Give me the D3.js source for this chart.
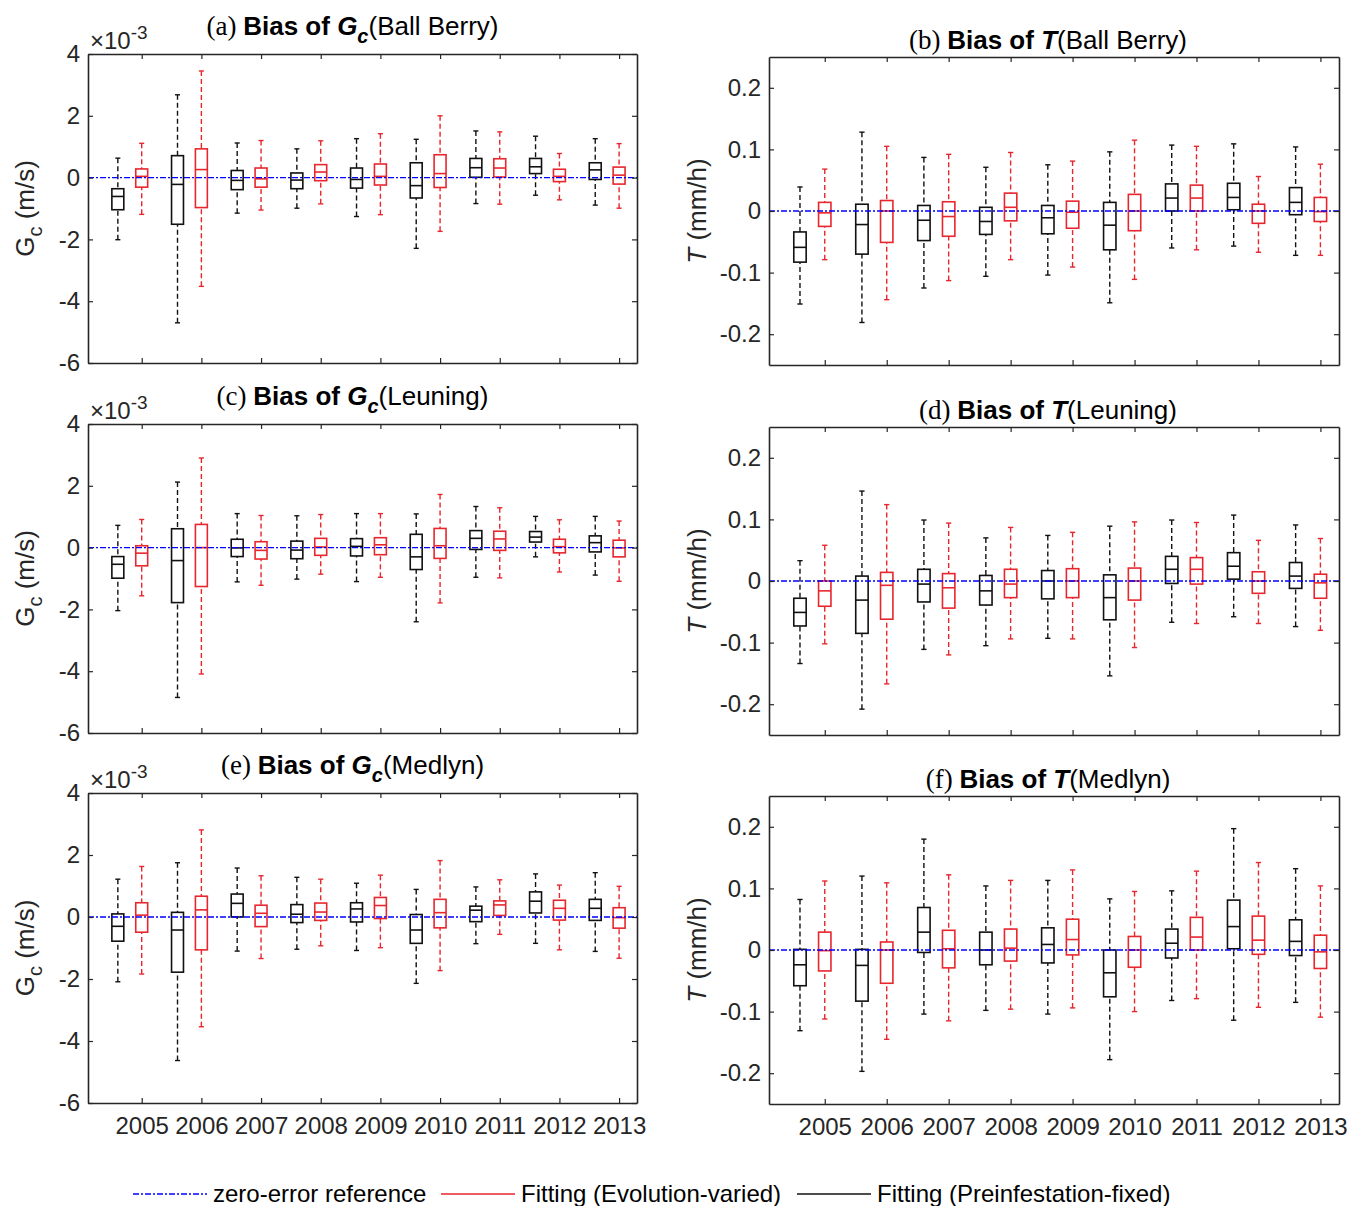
<!DOCTYPE html>
<html>
<head>
<meta charset="utf-8">
<script src="https://cdn.jsdelivr.net/npm/d3@7"></script>
<style>
  body { margin: 0; background: #fff; }
  svg { display: block; }
  text { font-family: "Liberation Sans", Arial, sans-serif; }
</style>
</head>
<body>
<div id="chart"></div>
<script>
// box stats per year: [lower whisker, q1, median, q3, upper whisker]
var years = [2005, 2006, 2007, 2008, 2009, 2010, 2011, 2012, 2013];

// Gc bias, units of 1e-3 m/s
var gcBallBerryFixed = [[-2.01,-1.04,-0.61,-0.36,0.63],[-4.70,-1.51,-0.22,0.71,2.68],[-1.15,-0.39,-0.09,0.23,1.12],[-0.99,-0.36,-0.08,0.15,0.93],[-1.26,-0.34,-0.06,0.31,1.26],[-2.29,-0.66,-0.26,0.48,1.24],[-0.84,0.01,0.32,0.62,1.51],[-0.57,0.13,0.35,0.62,1.34],[-0.89,-0.06,0.25,0.48,1.26]];
var gcBallBerryVaried = [[-1.19,-0.31,0.04,0.28,1.11],[-3.52,-0.97,0.26,0.93,3.45],[-1.05,-0.31,-0.04,0.31,1.20],[-0.85,-0.10,0.18,0.42,1.19],[-1.20,-0.24,0.04,0.44,1.42],[-1.74,-0.32,0.13,0.74,2.00],[-0.86,0.02,0.31,0.61,1.48],[-0.72,-0.13,0.04,0.27,0.78],[-0.99,-0.21,0.08,0.34,1.10]];
var gcLeuningFixed = [[-2.04,-0.99,-0.54,-0.29,0.72],[-4.85,-1.78,-0.42,0.61,2.12],[-1.11,-0.29,-0.01,0.27,1.10],[-1.02,-0.36,-0.08,0.21,1.03],[-1.10,-0.27,0.04,0.29,1.10],[-2.40,-0.71,-0.30,0.43,1.09],[-0.96,-0.06,0.30,0.55,1.33],[-0.30,0.18,0.34,0.52,1.01],[-0.89,-0.14,0.16,0.38,1.01]];
var gcLeuningVaried = [[-1.56,-0.59,-0.18,0.06,0.91],[-4.09,-1.26,0.00,0.75,2.90],[-1.22,-0.37,-0.09,0.19,1.04],[-0.86,-0.25,0.02,0.30,1.07],[-0.96,-0.23,0.09,0.32,1.10],[-1.79,-0.35,0.06,0.62,1.72],[-0.98,-0.09,0.28,0.53,1.29],[-0.79,-0.17,0.03,0.27,0.90],[-1.09,-0.30,-0.01,0.24,0.86]];
var gcMedlynFixed = [[-2.09,-0.78,-0.30,0.10,1.22],[-4.63,-1.78,-0.42,0.15,1.75],[-1.10,0.00,0.44,0.74,1.58],[-1.04,-0.18,0.09,0.40,1.28],[-1.08,-0.16,0.26,0.46,1.09],[-2.14,-0.85,-0.42,0.08,0.89],[-0.86,-0.15,0.22,0.35,0.97],[-0.85,0.13,0.51,0.81,1.39],[-1.11,-0.11,0.28,0.57,1.43]];
var gcMedlynVaried = [[-1.84,-0.49,0.06,0.46,1.63],[-3.54,-1.06,0.23,0.67,2.81],[-1.34,-0.31,0.12,0.38,1.33],[-0.93,-0.11,0.16,0.45,1.22],[-0.99,-0.05,0.37,0.63,1.35],[-1.73,-0.35,0.14,0.57,1.82],[-0.56,0.05,0.39,0.52,1.20],[-1.06,-0.10,0.28,0.54,1.03],[-1.33,-0.36,-0.02,0.30,0.99]];

// T bias, mm/h
var tBallBerryFixed = [[-0.151,-0.083,-0.059,-0.034,0.039],[-0.181,-0.070,-0.022,0.011,0.128],[-0.125,-0.048,-0.015,0.009,0.087],[-0.106,-0.038,-0.017,0.006,0.071],[-0.104,-0.037,-0.011,0.009,0.075],[-0.149,-0.063,-0.023,0.014,0.096],[-0.060,0.000,0.021,0.044,0.107],[-0.057,0.002,0.022,0.045,0.109],[-0.072,-0.006,0.014,0.038,0.104]];
var tBallBerryVaried = [[-0.079,-0.025,-0.003,0.014,0.068],[-0.144,-0.051,0.000,0.017,0.105],[-0.113,-0.041,-0.009,0.015,0.092],[-0.079,-0.016,0.006,0.029,0.095],[-0.091,-0.028,-0.002,0.016,0.081],[-0.111,-0.032,0.000,0.027,0.115],[-0.063,0.000,0.021,0.042,0.105],[-0.067,-0.020,0.000,0.011,0.056],[-0.072,-0.017,-0.001,0.022,0.076]];
var tLeuningFixed = [[-0.134,-0.073,-0.051,-0.028,0.033],[-0.208,-0.085,-0.031,0.008,0.146],[-0.111,-0.034,-0.005,0.019,0.099],[-0.105,-0.039,-0.016,0.009,0.070],[-0.093,-0.029,0.000,0.017,0.074],[-0.154,-0.063,-0.027,0.010,0.089],[-0.067,-0.004,0.019,0.040,0.099],[-0.058,0.003,0.024,0.046,0.107],[-0.074,-0.012,0.008,0.030,0.091]];
var tLeuningVaried = [[-0.102,-0.041,-0.016,0.000,0.058],[-0.167,-0.062,-0.007,0.014,0.124],[-0.120,-0.044,-0.011,0.012,0.094],[-0.094,-0.027,-0.005,0.019,0.087],[-0.094,-0.027,0.000,0.020,0.079],[-0.108,-0.031,0.000,0.021,0.096],[-0.069,-0.005,0.019,0.038,0.095],[-0.069,-0.020,0.000,0.015,0.066],[-0.080,-0.028,-0.003,0.011,0.069]];
var tMedlynFixed = [[-0.131,-0.058,-0.024,0.001,0.082],[-0.197,-0.083,-0.025,0.001,0.120],[-0.104,-0.004,0.029,0.069,0.180],[-0.098,-0.024,0.000,0.029,0.104],[-0.104,-0.021,0.009,0.036,0.113],[-0.178,-0.076,-0.037,0.000,0.083],[-0.082,-0.013,0.011,0.034,0.096],[-0.114,0.002,0.038,0.081,0.197],[-0.085,-0.009,0.014,0.049,0.132]];
var tMedlynVaried = [[-0.112,-0.034,-0.001,0.029,0.112],[-0.145,-0.054,0.000,0.013,0.109],[-0.115,-0.029,0.002,0.032,0.122],[-0.096,-0.018,0.003,0.034,0.113],[-0.094,-0.008,0.017,0.050,0.130],[-0.100,-0.028,0.000,0.022,0.095],[-0.079,0.000,0.021,0.053,0.128],[-0.093,-0.007,0.016,0.055,0.142],[-0.109,-0.030,-0.003,0.024,0.104]];

var gcTicks = [-6, -4, -2, 0, 2, 4];
var tTicks = [-0.2, -0.1, 0, 0.1, 0.2];
var legendLabels = ["zero-error reference", "Fitting (Evolution-varied)", "Fitting (Preinfestation-fixed)"];

var width = 1348, height = 1206;
var RED = "#e8262d", BLACK = "#111", AXIS = "#262626";

var svg = d3.select("#chart").append("svg")
    .attr("width", width)
    .attr("height", height);

var panels = [
  {tag: "(a)", sym: "G", sub: "c", model: "(Ball Berry)", kind: "gc", fixed: gcBallBerryFixed, varied: gcBallBerryVaried, x: 88, y: 54, w: 549, h: 309},
  {tag: "(b)", sym: "T", sub: "", model: "(Ball Berry)", kind: "t", fixed: tBallBerryFixed, varied: tBallBerryVaried, x: 769, y: 57, w: 570, h: 308},
  {tag: "(c)", sym: "G", sub: "c", model: "(Leuning)", kind: "gc", fixed: gcLeuningFixed, varied: gcLeuningVaried, x: 88, y: 424, w: 549, h: 309},
  {tag: "(d)", sym: "T", sub: "", model: "(Leuning)", kind: "t", fixed: tLeuningFixed, varied: tLeuningVaried, x: 769, y: 427, w: 570, h: 308},
  {tag: "(e)", sym: "G", sub: "c", model: "(Medlyn)", kind: "gc", fixed: gcMedlynFixed, varied: gcMedlynVaried, x: 88, y: 793, w: 549, h: 310, bottom: true},
  {tag: "(f)", sym: "T", sub: "", model: "(Medlyn)", kind: "t", fixed: tMedlynFixed, varied: tMedlynVaried, x: 769, y: 796, w: 570, h: 308, bottom: true}
];

panels.forEach(function(p) {
  var g = svg.append("g").attr("transform", "translate(" + p.x + "," + p.y + ")");

  var x = d3.scaleLinear().domain([2004.1, 2013.3]).range([0, p.w]);
  var y = d3.scaleLinear()
      .domain(p.kind == "gc" ? [-6, 4] : [-0.25, 0.25])
      .range([p.h, 0]);
  var ticks = p.kind == "gc" ? gcTicks : tTicks;
  var boxW = x(2005.2) - x(2005);
  var capW = x(2005.085) - x(2005);

  // boxes
  [{data: p.fixed, off: -0.4, color: BLACK}, {data: p.varied, off: 0, color: RED}].forEach(function(s) {
    var b = g.selectAll(null).data(s.data).enter().append("g")
        .attr("transform", function(d, i) { return "translate(" + x(years[i] + s.off) + ",0)"; });
    b.append("line").attr("y1", function(d) { return y(d[0]); }).attr("y2", function(d) { return y(d[1]); })
        .attr("stroke", s.color).attr("stroke-width", 1.4).attr("stroke-dasharray", "5,3");
    b.append("line").attr("y1", function(d) { return y(d[4]); }).attr("y2", function(d) { return y(d[3]); })
        .attr("stroke", s.color).attr("stroke-width", 1.4).attr("stroke-dasharray", "5,3");
    b.append("line").attr("x1", -capW / 2).attr("x2", capW / 2)
        .attr("y1", function(d) { return y(d[0]); }).attr("y2", function(d) { return y(d[0]); })
        .attr("stroke", s.color).attr("stroke-width", 1.4);
    b.append("line").attr("x1", -capW / 2).attr("x2", capW / 2)
        .attr("y1", function(d) { return y(d[4]); }).attr("y2", function(d) { return y(d[4]); })
        .attr("stroke", s.color).attr("stroke-width", 1.4);
    b.append("rect").attr("x", -boxW / 2).attr("width", boxW)
        .attr("y", function(d) { return y(d[3]); })
        .attr("height", function(d) { return y(d[1]) - y(d[3]); })
        .attr("fill", "none").attr("stroke", s.color).attr("stroke-width", 1.6);
    b.append("line").attr("x1", -boxW / 2).attr("x2", boxW / 2)
        .attr("y1", function(d) { return y(d[2]); }).attr("y2", function(d) { return y(d[2]); })
        .attr("stroke", s.color).attr("stroke-width", 1.6);
  });

  // zero-error reference
  g.append("line").attr("x1", 0).attr("x2", p.w).attr("y1", y(0)).attr("y2", y(0))
      .attr("stroke", "#0000ff").attr("stroke-width", 1.4).attr("stroke-dasharray", "6,2,2,2");

  // axes, ticks inside on all four sides
  var fmt = function(d) { return String(d); };
  var ax = [
    g.append("g").call(d3.axisLeft(y).tickValues(ticks).tickSize(-5).tickSizeOuter(0).tickPadding(8).tickFormat(fmt)),
    g.append("g").attr("transform", "translate(" + p.w + ",0)").call(d3.axisRight(y).tickValues(ticks).tickSize(-5).tickSizeOuter(0).tickFormat("")),
    g.append("g").call(d3.axisTop(x).tickValues(years).tickSize(-5).tickSizeOuter(0).tickFormat("")),
    g.append("g").attr("transform", "translate(0," + p.h + ")").call(d3.axisBottom(x).tickValues(years).tickSize(-5).tickSizeOuter(0).tickPadding(14).tickFormat(p.bottom ? fmt : ""))
  ];
  ax.forEach(function(a) {
    a.select(".domain").attr("stroke", AXIS).attr("stroke-width", 1.6);
    a.selectAll(".tick line").attr("stroke", AXIS).attr("stroke-width", 1.2);
    a.selectAll(".tick text").attr("fill", AXIS).style("font-size", "24px")
        .style("font-family", "'Liberation Sans', Arial, sans-serif");
  });

  // title
  var isGc = p.kind == "gc";
  var title = g.append("text")
      .attr("x", p.w / 2 + (isGc ? -10 : -6))
      .attr("y", isGc ? -19 : -8)
      .attr("text-anchor", "middle").attr("fill", "#000").style("font-size", "26px");
  title.append("tspan").text(p.tag + " ").style("font-family", "'Liberation Serif', 'Times New Roman', serif").style("font-size", "27px");
  title.append("tspan").text("Bias of ").attr("font-weight", "bold");
  title.append("tspan").text(p.sym).attr("font-weight", "bold").attr("font-style", "italic");
  if (p.sub) {
    title.append("tspan").text(p.sub).attr("font-weight", "bold").attr("font-style", "italic")
        .attr("dy", 8).style("font-size", "20px");
    title.append("tspan").text(p.model).attr("dy", -8);
  } else {
    title.append("tspan").text(p.model);
  }

  // exponent label
  if (isGc) {
    var ex = g.append("text").attr("x", 2).attr("y", -5).attr("fill", AXIS).style("font-size", "24px");
    ex.append("tspan").text("\u00d710");
    ex.append("tspan").text("-3").attr("dy", -10).style("font-size", "19px");
  }

  // y-axis label
  var yl = g.append("text")
      .attr("transform", "translate(" + (isGc ? -54 : -63) + "," + (p.h / 2) + ") rotate(-90)")
      .attr("text-anchor", "middle").attr("fill", AXIS).style("font-size", "26px");
  if (isGc) {
    yl.append("tspan").text("G");
    yl.append("tspan").text("c").attr("dy", 8).style("font-size", "20px");
    yl.append("tspan").text(" (m/s)").attr("dy", -8);
  } else {
    yl.append("tspan").text("T").attr("font-style", "italic");
    yl.append("tspan").text(" (mm/h)");
  }
});

// legend
var legend = [
  {label: legendLabels[0], color: "#0000ff", dash: "6,2,2,2", x: 133},
  {label: legendLabels[1], color: RED, dash: null, x: 441},
  {label: legendLabels[2], color: BLACK, dash: null, x: 797}
];
var lg = svg.append("g").attr("transform", "translate(0,1194)");
legend.forEach(function(l) {
  lg.append("line").attr("x1", l.x).attr("x2", l.x + 74).attr("y1", 0).attr("y2", 0)
      .attr("stroke", l.color).attr("stroke-width", 1.4).attr("stroke-dasharray", l.dash);
  lg.append("text").attr("x", l.x + 80).attr("y", 8).attr("fill", "#000")
      .style("font-size", "24px").text(l.label);
});
</script>
</body>
</html>
